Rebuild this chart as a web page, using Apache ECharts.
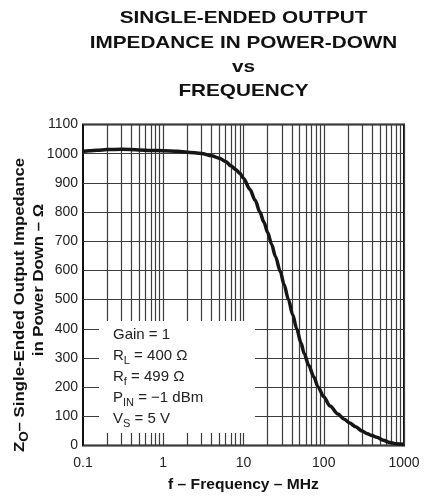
<!DOCTYPE html>
<html>
<head>
<meta charset="utf-8">
<script src="https://cdn.jsdelivr.net/npm/echarts@6/dist/echarts.min.js"></script>
<style>
  html, body { margin: 0; padding: 0; background: #fff; }
  #chart { width: 425px; height: 498px; }
</style>
</head>
<body>
<div id="chart"></div>
<script>
// Frequency sweep (MHz) and measured power-down output impedance (ohms)
const freqMHz = [0.1, 0.12, 0.15, 0.2, 0.3, 0.5, 0.7, 1, 1.5, 2, 3, 4, 5, 6, 7, 8, 9, 10, 12, 14, 16, 18, 20,
  22.4, 25, 28.8, 32, 36.3, 41, 46, 52, 57, 65, 75, 85, 100, 120, 150, 180, 210, 250, 300, 350, 400, 460,
  550, 670, 800, 1000];
const impedance = [1008, 1010, 1012, 1014, 1015, 1013, 1011, 1010, 1008, 1005, 1001, 993, 984, 973, 958, 946,
  933, 916, 878, 840, 800, 765, 730, 690, 648, 595, 552, 500, 448, 400, 352, 315, 275, 236, 200, 167, 135,
  108, 90, 77, 64, 50, 40, 34, 28, 18, 10, 6, 4];

// Axis tick values
const xTicks = [0.1, 1, 10, 100, 1000];
const yTicks = [0, 100, 200, 300, 400, 500, 600, 700, 800, 900, 1000, 1100];

// Vertical grid lines at 2..10 of each decade
const xGridValues = [];
for (let d = 0.1; d < 1000; d *= 10) {
  for (let k = 2; k <= 10; k++) xGridValues.push(+(d * k).toPrecision(3));
}

const titleLines = ['SINGLE-ENDED OUTPUT', 'IMPEDANCE IN POWER-DOWN', 'vs', 'FREQUENCY'];
const conditionLines = [
  '{n|Gain = 1}',
  '{n|R}{s|L}{n| = 400 Ω}',
  '{n|R}{s|f}{n| = 499 Ω}',
  '{n|P}{s|IN}{n| = −1 dBm}',
  '{n|V}{s|S}{n| = 5 V}'
];

const FONT = '"Liberation Sans", Arial, Helvetica, sans-serif';
const GRID = { left: 83, top: 124.5, width: 321, height: 321 };
const gridColor = '#3c3c3c';

const chart = echarts.init(document.getElementById('chart'));

const graphics = [];
// Title
const titleY = [18.5, 43, 67, 91];
titleLines.forEach((t, i) => {
  graphics.push({
    type: 'text', x: 243.5, y: titleY[i], scaleX: 1.22, z: 20,
    style: { text: t, font: 'bold 17px ' + FONT, fill: '#111', textAlign: 'center', textVerticalAlign: 'middle' }
  });
});
// White panel holding the test conditions
graphics.push({
  type: 'rect', z: 10,
  shape: { x: 99, y: 321, width: 156, height: 112 },
  style: { fill: '#fff' }
});
const condY = [335, 356, 377, 398, 419];
conditionLines.forEach((t, i) => {
  graphics.push({
    type: 'text', x: 113, y: condY[i], z: 11,
    style: {
      text: t, textAlign: 'left', textVerticalAlign: 'middle', fill: '#222',
      rich: {
        n: { font: '15px ' + FONT, fill: '#222' },
        s: { font: '11px ' + FONT, fill: '#222', padding: [9, 0, 0, 0] }
      }
    }
  });
});
// Y-axis title (two lines, reading upward)
graphics.push({
  type: 'text', x: 20, y: 305, rotation: Math.PI / 2, scaleX: 1.12, z: 20,
  style: {
    text: '{n|Z}{s|O}{n|– Single-Ended Output Impedance}',
    textAlign: 'center', textVerticalAlign: 'middle', fill: '#111',
    rich: {
      n: { font: 'bold 15px ' + FONT, fill: '#111' },
      s: { font: 'bold 12px ' + FONT, fill: '#111', padding: [9, 0, 0, 0] }
    }
  }
});
graphics.push({
  type: 'text', x: 39, y: 280, rotation: Math.PI / 2, scaleX: 1.12, z: 20,
  style: { text: 'in Power Down – Ω', font: 'bold 15px ' + FONT, fill: '#111', textAlign: 'center', textVerticalAlign: 'middle' }
});
// X-axis title
graphics.push({
  type: 'text', x: 243.5, y: 485, scaleX: 1.04, z: 20,
  style: { text: 'f – Frequency – MHz', font: 'bold 15px ' + FONT, fill: '#111', textAlign: 'center', textVerticalAlign: 'middle' }
});

chart.setOption({
  animation: false,
  backgroundColor: '#fff',
  grid: Object.assign({ show: true, borderColor: '#111', borderWidth: 2, backgroundColor: 'transparent' }, GRID),
  xAxis: {
    type: 'log', logBase: 10, min: xTicks[0], max: xTicks[xTicks.length - 1],
    axisLine: { show: false }, axisTick: { show: false },
    splitLine: { show: false },
    axisLabel: {
      fontFamily: FONT, fontSize: 14, color: '#222', margin: 11,
      formatter: v => xTicks.includes(+v.toPrecision(3)) ? String(+v.toPrecision(3)) : ''
    }
  },
  yAxis: {
    type: 'value', min: yTicks[0], max: yTicks[yTicks.length - 1], interval: 100,
    axisLine: { show: false }, axisTick: { show: false },
    splitLine: { show: true, lineStyle: { color: gridColor, width: 1.2 } },
    axisLabel: { fontFamily: FONT, fontSize: 14, color: '#222', margin: 5, formatter: v => String(v) }
  },
  graphic: graphics,
  series: [{
    type: 'line',
    data: freqMHz.map((f, i) => [f, impedance[i]]),
    showSymbol: false,
    smooth: 0.3,
    smoothMonotone: 'x',
    z: 5,
    lineStyle: { color: '#161616', width: 3.5 },
    markLine: {
      silent: true, symbol: 'none', z: 1,
      label: { show: false },
      lineStyle: { color: gridColor, width: 1.2, type: 'solid' },
      emphasis: { disabled: true },
      data: xGridValues.map(v => ({ xAxis: v }))
    }
  }]
});
</script>
</body>
</html>
